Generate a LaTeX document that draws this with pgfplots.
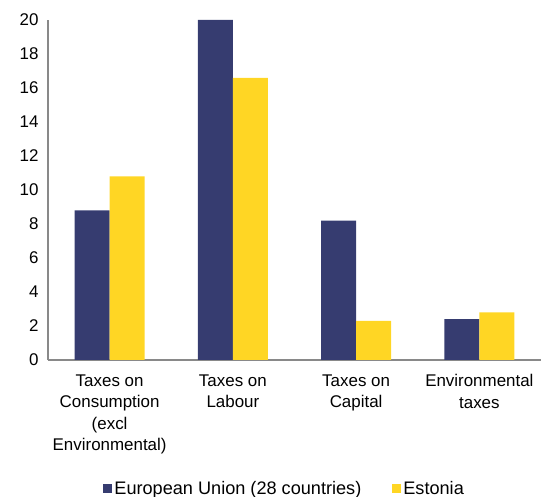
\documentclass[border=0pt]{standalone}
\usepackage{pgfplots}
\pgfplotsset{compat=1.18}
\usepackage{fontspec}
\setmainfont{Liberation Sans}
\definecolor{euc}{RGB}{54,60,112}
\definecolor{eec}{RGB}{255,214,36}
\definecolor{axc}{RGB}{137,137,137}
\begin{document}
\begin{tikzpicture}
\path[use as bounding box] (0,0) rectangle (541bp,497bp);
\begin{axis}[
  at={(48bp,137bp)}, anchor=south west,
  scale only axis, width=493bp, height=340bp,
  ybar=0pt, bar width=35bp,
  xmin=-0.5, xmax=3.5, ymin=0, ymax=20,
  ytick={0,2,...,20},
  xtick={0,1,2,3},
  xticklabels={{Taxes on\\Consumption\\(excl\\Environmental)},{Taxes on\\Labour},{Taxes on\\Capital},{Environmental\\taxes}},
  axis x line=bottom, axis y line=left,
  axis line style={draw=axc, line width=1.5bp, -},
  major tick length=0pt,
  /pgf/number format/assume math mode=true,
  tick label style={font=\fontsize{17}{21.5}\selectfont, text=black},
  xticklabel style={align=center, yshift=-11bp},
  yticklabel style={xshift=-6bp},
  legend style={draw=none, at={(0.48,-0.405)}, anchor=south, inner sep=0pt,
    font=\fontsize{18.2}{20}\selectfont, legend columns=2,
    /tikz/every even column/.style={column sep=29bp},
    /tikz/every odd column/.style={}},
  legend image code/.code={\draw[#1,draw=none] (0bp,-4.5bp) rectangle (9bp,4.5bp);},
  legend cell align=left,
]
\addplot[fill=euc, draw=none] coordinates {(0,8.8) (1,20.0) (2,8.2) (3,2.4)};
\addplot[fill=eec, draw=none] coordinates {(0,10.8) (1,16.6) (2,2.3) (3,2.8)};
\legend{European Union (28 countries), Estonia}
\end{axis}
\end{tikzpicture}
\end{document}
